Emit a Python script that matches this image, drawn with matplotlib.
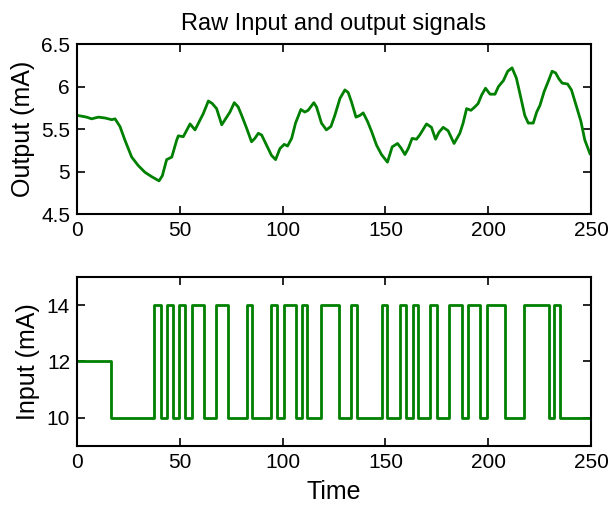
import matplotlib.pyplot as plt

# Output signal (mA)
out_t = [0.3, 4.7, 7.1, 10.4, 13.6, 16.9, 18.5, 20.9, 23.3, 26.6, 29.8, 33.1, 36.3, 39.9,
         41.5, 43.6, 46.1, 48.5, 49.3, 51.7, 55.0, 57.4, 61.4, 63.9, 65.8, 67.9, 70.4,
         74.4, 76.5, 78.4, 80.1, 82.5, 84.9, 86.5, 88.2, 89.8, 92.2, 94.6, 96.6, 98.7,
         100.8, 102.4, 104.4, 106.3, 108.9, 110.8, 112.4, 115.2, 116.5, 118.9, 121.3,
         123.5, 125.4, 127.9, 130.3, 131.9, 133.5, 135.7, 137.6, 139.2, 141.3, 143.3,
         145.7, 148.1, 151.0, 153.3, 155.9, 157.5, 159.5, 161.1, 163.0, 165.1, 166.7,
         170.0, 172.4, 174.4, 176.0, 178.1, 180.5, 183.4, 186.2, 187.8, 189.5, 191.6,
         193.5, 195.1, 196.8, 198.7, 200.9, 203.3, 205.0, 207.4, 209.5, 211.6, 213.7,
         215.4, 217.8, 219.5, 221.9, 223.6, 225.2, 227.2, 229.2, 231.1, 232.8, 234.4,
         236.0, 238.6, 240.5, 243.0, 245.1, 247.0, 249.5]
out_v = [5.66, 5.64, 5.62, 5.64, 5.63, 5.61, 5.62, 5.53, 5.37, 5.17, 5.07, 4.99, 4.94, 4.89,
         4.95, 5.14, 5.17, 5.37, 5.42, 5.41, 5.56, 5.49, 5.68, 5.83, 5.80, 5.74, 5.55,
         5.70, 5.81, 5.76, 5.66, 5.51, 5.35, 5.39, 5.45, 5.43, 5.31, 5.19, 5.14, 5.27,
         5.32, 5.30, 5.39, 5.57, 5.73, 5.70, 5.72, 5.81, 5.76, 5.57, 5.49,
         5.53, 5.66, 5.86, 5.96, 5.93, 5.82, 5.64, 5.66, 5.69, 5.59, 5.47,
         5.31, 5.20, 5.11, 5.29, 5.33, 5.28, 5.20, 5.27, 5.39, 5.38, 5.43,
         5.56, 5.52, 5.38, 5.46, 5.52, 5.48, 5.33, 5.45, 5.57, 5.74, 5.72,
         5.76, 5.80, 5.90, 5.98, 5.91, 5.91, 6.00, 6.07, 6.18, 6.22, 6.10,
         5.92, 5.66, 5.57, 5.57, 5.70, 5.78, 5.94, 6.06, 6.18, 6.16, 6.09,
         6.04, 6.03, 5.96, 5.76, 5.59, 5.37, 5.21]

# Input signal (mA): switching times and level held from each time on
in_t = [0, 16.5, 37.4, 40.7, 43.9, 46.7, 49.4, 52.5, 55.7, 61.6, 67.7, 73.6, 82.8, 85.2,
        94.3, 97.5, 100.5, 106.3, 109.2, 112.1, 118.6, 127.4, 133.5, 136.0, 148.4, 151.0,
        157.3, 160.2, 163.2, 166.0, 171.9, 174.9, 181.0, 187.3, 190.2, 196.1, 199.5,
        208.0, 217.2, 229.5, 232.2, 235.1, 250]
in_v = [12, 10, 14, 10, 14, 10, 14, 10, 14, 10, 14, 10, 14, 10,
        14, 10, 14, 10, 14, 10, 14, 10, 14, 10, 14, 10,
        14, 10, 14, 10, 14, 10, 14, 10, 14, 10, 14,
        10, 14, 10, 14, 10, 10]

plt.rcParams['font.family'] = ['Liberation Sans', 'DejaVu Sans']
plt.rcParams['font.size'] = 14

fig = plt.figure(figsize=(6.13, 5.08), dpi=100)
ax1 = fig.add_axes([0.1256, 0.5787, 0.8385, 0.3346])
ax2 = fig.add_axes([0.1256, 0.122, 0.8385, 0.333])

green = (0, 0.5, 0)
ax1.plot(out_t, out_v, color=green, lw=2)
ax1.set_xlim(0, 250)
ax1.set_ylim(4.5, 6.5)
ax1.set_xticks([0, 50, 100, 150, 200, 250])
ax1.set_yticks([4.5, 5, 5.5, 6, 6.5])
ax1.set_yticklabels(['4.5', '5', '5.5', '6', '6.5'])
ax1.set_ylabel('Output (mA)', fontsize=18, labelpad=4)
ax1.set_title('Raw Input and output signals', fontsize=17, pad=10)

ax2.step(in_t, in_v, where='post', color=green, lw=2)
ax2.set_xlim(0, 250)
ax2.set_ylim(9, 15)
ax2.set_xticks([0, 50, 100, 150, 200, 250])
ax2.set_yticks([10, 12, 14])
ax2.set_ylabel('Input (mA)', fontsize=18, labelpad=5)
ax2.set_xlabel('Time', fontsize=18, labelpad=6)

for ax in (ax1, ax2):
    ax.tick_params(direction='in', top=True, right=True, length=6, width=1.2, pad=5,
                   labelsize=15)
    for s in ax.spines.values():
        s.set_linewidth(1.5)

fig.savefig('out.png', dpi=100)
